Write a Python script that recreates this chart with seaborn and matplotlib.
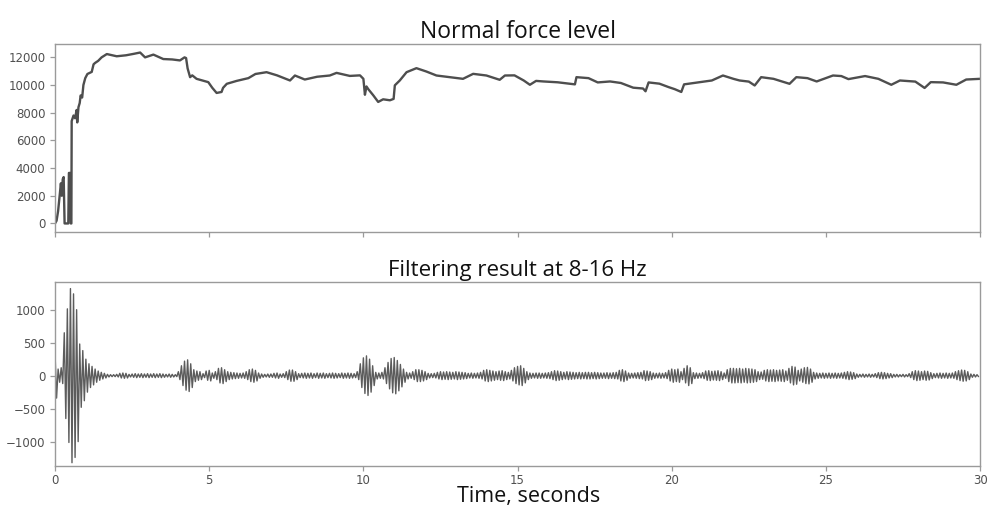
import numpy as np
import pandas as pd
import matplotlib
matplotlib.use("Agg")
import matplotlib.pyplot as plt
import seaborn as sns

# ---------------- data ----------------
force_t = [0, 0.05, 0.10, 0.14, 0.19, 0.22, 0.25, 0.28, 0.31, 0.43, 0.45, 0.49, 0.51, 0.53,
           0.54, 0.60, 0.65, 0.70, 0.72, 0.76, 0.80, 0.83, 0.88, 0.92, 0.98, 1.05, 1.19, 1.25,
           1.30, 1.40, 1.51, 1.68, 2.0, 2.3, 2.54, 2.76, 2.92, 3.19, 3.51, 3.8, 4.05, 4.20,
           4.25, 4.30, 4.38, 4.45, 4.59, 4.97, 5.10, 5.24, 5.40, 5.45, 5.57, 5.89, 6.27, 6.5,
           6.86, 7.2, 7.62, 7.78, 8.10, 8.5, 8.91, 9.13, 9.56, 9.89, 10.0, 10.05, 10.10, 10.16,
           10.32, 10.48, 10.64, 10.86, 10.98, 11.02, 11.18, 11.40, 11.72, 12.04, 12.37, 12.80,
           13.23, 13.56, 13.99, 14.42, 14.59, 14.9, 15.2, 15.4, 15.6, 15.84, 16.3, 16.86, 16.91,
           17.3, 17.6, 18.0, 18.35, 18.75, 19.07, 19.15, 19.25, 19.6, 19.9, 20.1, 20.31, 20.4,
           20.9, 21.3, 21.66, 22.0, 22.2, 22.5, 22.69, 22.9, 23.3, 23.82, 24.04, 24.4, 24.7,
           25.23, 25.5, 25.73, 26.27, 26.7, 27.12, 27.4, 27.9, 28.2, 28.4, 28.8, 29.23, 29.55,
           30.0]
force_val = [0, 200, 900, 1800, 2900, 2000, 3200, 3350, 0, 0, 3650, 3650, 0, 0,
             7400, 7800, 7600, 8200, 7300, 8400, 8700, 9250, 9100, 10000, 10500, 10800, 10950, 11500,
             11600, 11750, 12000, 12240, 12080, 12150, 12250, 12350, 12000, 12200, 11880, 11850, 11780, 12000,
             11950, 11200, 10570, 10700, 10450, 10210, 9800, 9430, 9500, 9800, 10090, 10300, 10500, 10800,
             10930, 10700, 10330, 10690, 10400, 10600, 10690, 10880, 10660, 10700, 10450, 9300, 9900, 9700,
             9260, 8780, 8970, 8900, 9000, 9980, 10330, 10930, 11220, 10980, 10690, 10570,
             10450, 10810, 10690, 10380, 10690, 10700, 10330, 10020, 10300, 10260, 10200, 10050, 10570,
             10500, 10190, 10260, 10150, 9810, 9750, 9550, 10190, 10100, 9850, 9700, 9500, 10050,
             10210, 10330, 10690, 10450, 10330, 10250, 9970, 10570, 10450, 10090, 10570, 10500, 10260,
             10690, 10650, 10430, 10650, 10450, 10020, 10330, 10250, 9790, 10210, 10190, 10020, 10400,
             10450]

# peak amplitude of the 8-16 Hz filtered signal in successive 0.1 s windows (t = 0.0 ... 29.9 s)
filt_step = 0.1
filt_amp = [
    340, 100, 120, 650, 1013, 1320, 1240, 1000, 480, 380,      # 0.0
    250, 180, 140, 100, 70, 50, 35, 20, 15, 15,                # 1.0
    20, 35, 40, 35, 20, 25, 30, 25, 30, 25,                    # 2.0
    30, 25, 30, 25, 30, 25, 20, 25, 20, 15,                    # 3.0
    60, 150, 220, 240, 180, 90, 70, 60, 30, 70,                # 4.0
    80, 40, 60, 110, 120, 90, 60, 50, 45, 40,                  # 5.0
    35, 40, 60, 90, 100, 80, 40, 25, 20, 25,                   # 6.0
    25, 35, 40, 25, 30, 60, 85, 85, 60, 30,                    # 7.0
    35, 40, 35, 40, 30, 40, 35, 40, 30, 35,                    # 8.0
    40, 35, 30, 40, 35, 40, 35, 30, 60, 180,                   # 9.0
    270, 300, 250, 150, 50, 40, 50, 120, 200, 260,             # 10.0
    275, 230, 170, 100, 50, 40, 60, 90, 90, 80,                # 11.0
    60, 35, 30, 35, 50, 60, 55, 60, 55, 50,                    # 12.0
    60, 55, 50, 45, 35, 40, 35, 40, 50, 80,                    # 13.0
    90, 80, 70, 60, 70, 75, 60, 50, 80, 120,                   # 14.0
    140, 150, 110, 60, 40, 35, 40, 40, 35, 40,                 # 15.0
    45, 60, 75, 70, 60, 50, 60, 55, 50, 45,                    # 16.0
    50, 45, 50, 50, 45, 50, 45, 40, 40, 45,                    # 17.0
    40, 45, 50, 80, 90, 70, 40, 35, 40, 45,                    # 18.0
    50, 75, 70, 60, 40, 35, 40, 35, 45, 80,                    # 19.0
    100, 90, 100, 60, 110, 150, 120, 45, 40, 35,               # 20.0
    45, 70, 75, 65, 70, 75, 60, 40, 90, 110,                   # 21.0
    110, 105, 110, 100, 110, 105, 100, 90, 60, 55,             # 22.0
    80, 90, 85, 90, 80, 85, 90, 70, 110, 140,                  # 23.0
    130, 80, 100, 120, 125, 100, 50, 40, 35, 40,               # 24.0
    35, 40, 35, 40, 35, 40, 50, 60, 55, 45,                    # 25.0
    25, 20, 25, 20, 25, 20, 30, 45, 50, 45,                    # 26.0
    35, 30, 20, 20, 15, 20, 15, 30, 60, 75,                    # 27.0
    70, 60, 70, 65, 45, 30, 35, 40, 35, 40,                    # 28.0
    35, 40, 60, 75, 85, 80, 60, 25, 20, 15,                    # 29.0
]

title_top = "Normal force level"
title_bottom = "Filtering result at 8-16 Hz"
x_label = "Time, seconds"
x_ticks = [0, 5, 10, 15, 20, 25, 30]

# ---------------- build tables ----------------
df_force = pd.DataFrame({"t": force_t, "force": force_val})
rows_t, rows_v = [], []
for i, a in enumerate(filt_amp):
    t0 = i * filt_step
    rows_t += [t0, t0 + filt_step / 2]
    rows_v += [a, -a]
df_filt = pd.DataFrame({"t": rows_t, "val": rows_v})

# ---------------- plot ----------------
sns.set_style("white")
plt.rcParams["font.family"] = ["DejaVu Sans"]

fig = plt.figure(figsize=(9.88, 5.05), dpi=100)
ax1 = fig.add_axes([0.0557, 0.5406, 0.9363, 0.3723])
ax2 = fig.add_axes([0.0557, 0.0772, 0.9363, 0.3644], sharex=ax1)

sns.lineplot(data=df_force, x="t", y="force", ax=ax1, color="#4e4e4e", linewidth=1.7,
             estimator=None, sort=False)
sns.lineplot(data=df_filt, x="t", y="val", ax=ax2, color="#5c5c5c", linewidth=1.0,
             estimator=None, sort=False)

ax1.set_xlim(0, 30)
ax2.set_ylim(-1370, 1420)
ax1.set_xticks(x_ticks)
ax1.set_yticks([0, 2000, 4000, 6000, 8000, 10000, 12000])
ax2.set_yticks([-1000, -500, 0, 500, 1000])

for ax in (ax1, ax2):
    ax.set_ylabel("")
    ax.set_xlabel("")
    for s in ax.spines.values():
        s.set_color("#9a9a9a")
        s.set_linewidth(1.0)
    ax.tick_params(axis="both", which="both", direction="out", length=3.5, width=0.9,
                   color="#9a9a9a", labelsize=8.5, labelcolor="#505050",
                   bottom=True, left=True)
ax1.tick_params(axis="x", labelbottom=False)
ax2.tick_params(axis="x", pad=2)

fam = ["Open Sans", "DejaVu Sans"]
ax1.set_title(title_top, fontsize=16.5, family=fam, pad=4, color="#111111")
ax2.set_title(title_bottom, fontsize=16, family=fam, pad=4, color="#111111")
ax2.set_xlabel(x_label, fontsize=15.5, family=fam, color="#111111")
ax2.xaxis.set_label_coords(0.512, -0.108)

fig.savefig("out.png", dpi=100)
